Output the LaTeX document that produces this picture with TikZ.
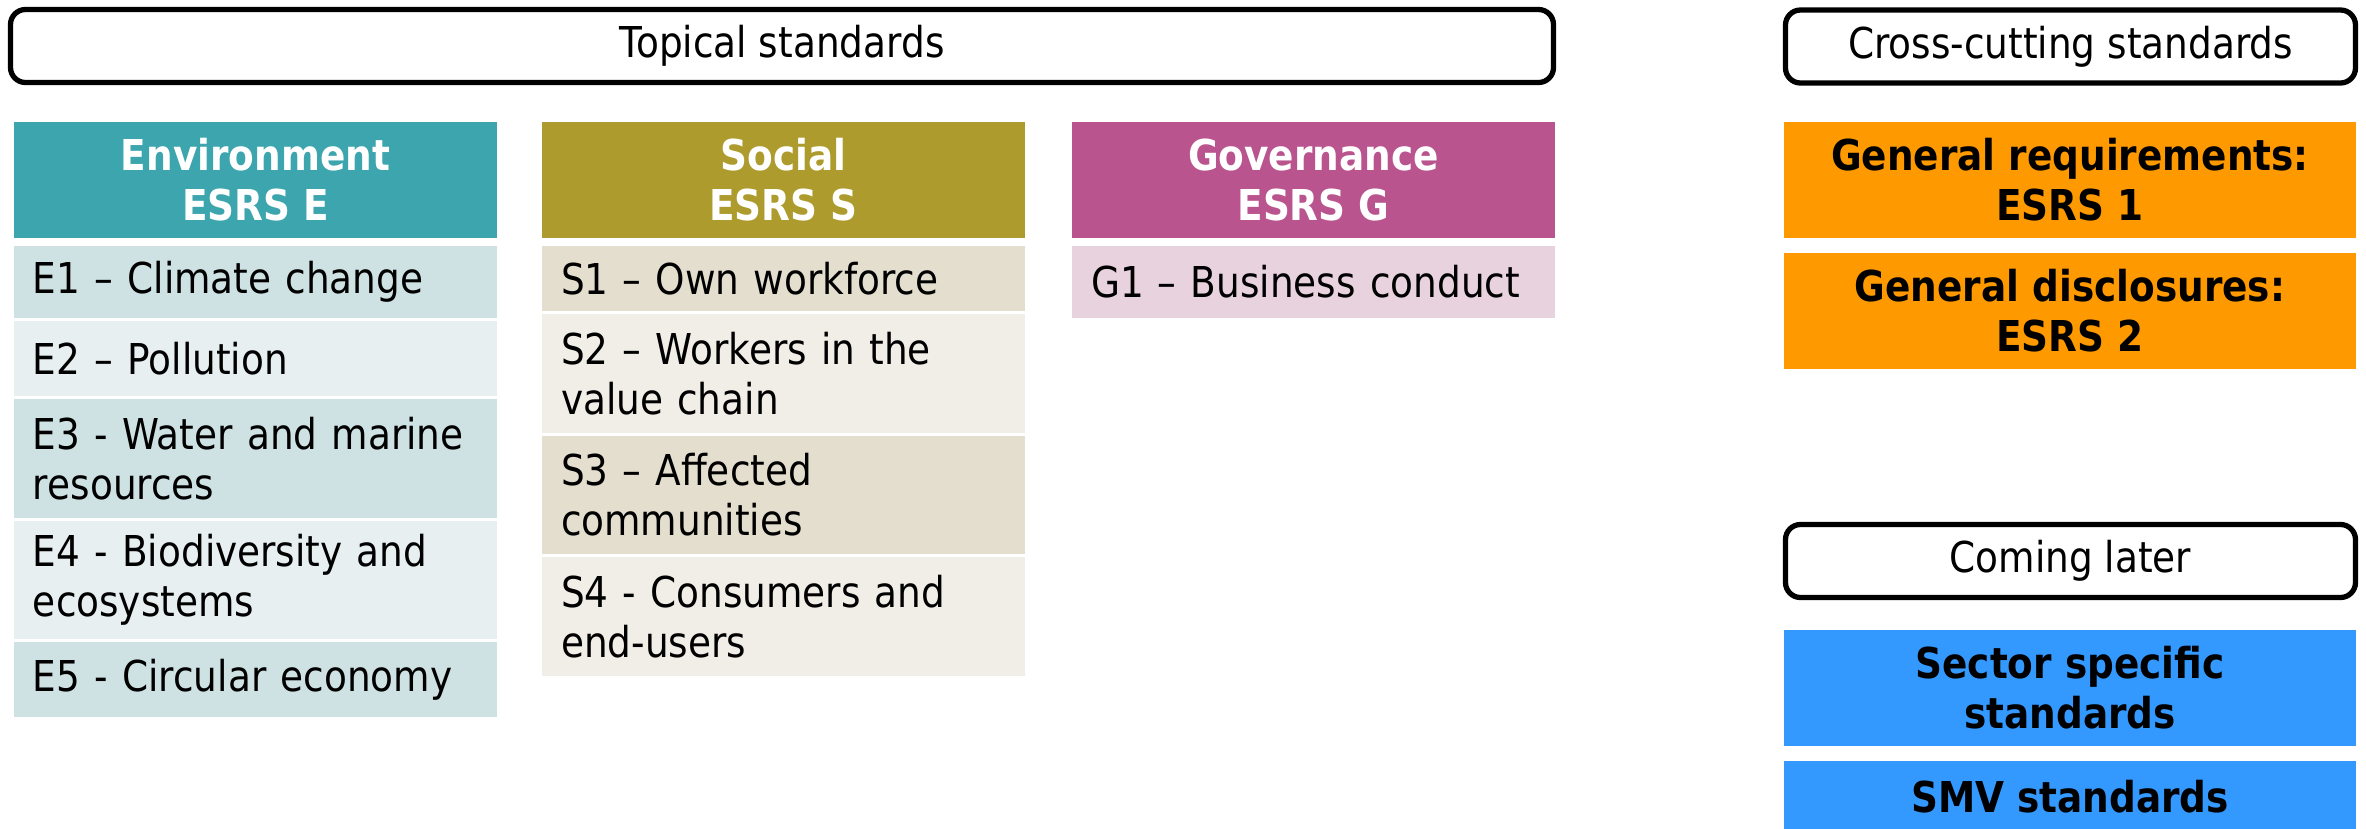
\documentclass[tikz,border=0pt]{standalone}
\usepackage{fontspec}
\setmainfont{DejaVu Sans}[FakeStretch=0.88]
\usepackage{tikz}
\usetikzlibrary{positioning}
\definecolor{envhead}{RGB}{61,165,174}
\definecolor{envdark}{RGB}{206,225,227}
\definecolor{envlight}{RGB}{232,239,240}
\definecolor{sochead}{RGB}{174,155,46}
\definecolor{socdark}{RGB}{227,222,205}
\definecolor{soclight}{RGB}{240,238,231}
\definecolor{govhead}{RGB}{185,84,142}
\definecolor{govlight}{RGB}{232,210,222}
\definecolor{crossorange}{RGB}{255,153,0}
\definecolor{laterblue}{RGB}{51,153,255}

\begin{document}
\begin{tikzpicture}
% STYLES
\tikzset{
    topbox/.style={rectangle, draw, rounded corners=0.15cm, line width=1.5pt,
    minimum height=0.73cm, inner sep=0pt, font=\fontsize{12.1}{14.2}\selectfont},
    headbox/.style={rectangle, minimum width=4.83cm, minimum height=1.16cm,
    align=center, text=white, inner sep=0pt, outer sep=0pt,
    font=\fontsize{12.1}{14.2}\selectfont\bfseries},
    itembox/.style={rectangle, minimum width=4.83cm, text width=4.45cm,
    inner xsep=0.19cm, inner ysep=0pt, outer sep=0pt, align=left,
    font=\fontsize{12.1}{14.2}\selectfont},
    stdbox/.style={rectangle, minimum width=5.72cm, minimum height=1.16cm,
    align=center, inner sep=0pt, outer sep=0pt,
    font=\fontsize{12.1}{14.2}\selectfont\bfseries}
}
\useasboundingbox (0,0) rectangle (23.66,-8.28);

\node [topbox, minimum width=15.43cm] (Topical) at (7.82,-0.46) {Topical standards};
\node [topbox, minimum width=5.70cm] (Cross) at (20.705,-0.465) {Cross-cutting standards};
\node [topbox, minimum width=5.70cm] (Later) at (20.705,-5.61) {Coming later};

% Environment
\node [headbox, fill=envhead, anchor=north west] (EnvHead) at (0.14,-1.22) {Environment\\ESRS E};
\node [itembox, fill=envdark, minimum height=0.72cm, below=0.08cm of EnvHead] (E1) {E1 – Climate change};
\node [itembox, fill=envlight, minimum height=0.75cm, below=0.03cm of E1] (E2) {E2 – Pollution};
\node [itembox, fill=envdark, minimum height=1.19cm, below=0.03cm of E2] (E3) {E3 - Water and marine\\resources};
\node [itembox, fill=envlight, minimum height=1.18cm, below=0.03cm of E3] (E4) {E4 - Biodiversity and\\ecosystems};
\node [itembox, fill=envdark, minimum height=0.75cm, below=0.03cm of E4] (E5) {E5 - Circular economy};

% Social
\node [headbox, fill=sochead, anchor=north west] (SocHead) at (5.42,-1.22) {Social\\ESRS S};
\node [itembox, fill=socdark, minimum height=0.65cm, below=0.08cm of SocHead] (S1) {S1 – Own workforce};
\node [itembox, fill=soclight, minimum height=1.19cm, below=0.03cm of S1] (S2) {S2 – Workers in the\\value chain};
\node [itembox, fill=socdark, minimum height=1.18cm, below=0.03cm of S2] (S3) {S3 – Affected\\communities};
\node [itembox, fill=soclight, minimum height=1.19cm, below=0.03cm of S3] (S4) {S4 - Consumers and\\end-users};

% Governance
\node [headbox, fill=govhead, anchor=north west] (GovHead) at (10.72,-1.22) {Governance\\ESRS G};
\node [itembox, fill=govlight, minimum height=0.72cm, below=0.08cm of GovHead] (G1) {G1 – Business conduct};

% Cross-cutting and later
\node [stdbox, fill=crossorange, anchor=north west] (Gen1) at (17.84,-1.22) {General requirements:\\ESRS 1};
\node [stdbox, fill=crossorange, below=0.15cm of Gen1] (Gen2) {General disclosures:\\ESRS 2};
\node [stdbox, fill=laterblue, anchor=north west] (Sector) at (17.84,-6.30) {Sector specific\\standards};
\node [stdbox, fill=laterblue, minimum height=0.72cm, below=0.15cm of Sector] (SMV) {SMV standards};

\end{tikzpicture}
\end{document}
